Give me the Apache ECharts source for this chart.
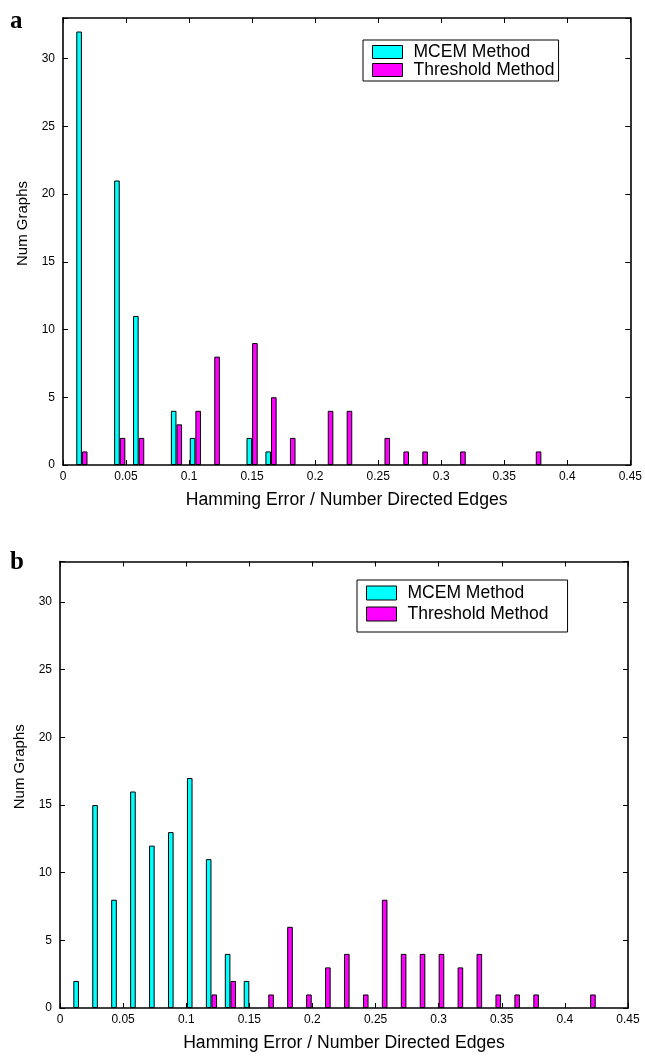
<!DOCTYPE html>
<html><head><meta charset="utf-8">
<script src="https://cdn.jsdelivr.net/npm/echarts@6/dist/echarts.min.js"></script>
<style>html,body{margin:0;padding:0;background:#fff}#c{width:645px;height:1056px}</style>
</head><body><div id="c"></div><script>
// Bin centres (Hamming error / number directed edges)
const binCenters = [0.015,0.03,0.045,0.06,0.075,0.09,0.105,0.12,0.135,0.15,0.165,0.18,0.195,0.21,
                    0.225,0.24,0.255,0.27,0.285,0.3,0.315,0.33,0.345,0.36,0.375,0.39,0.405,0.42];
const seriesNames = ['MCEM Method', 'Threshold Method'];
// Panel a counts per bin
const aMcem      = [32,0,21,11,0,4,2,0,0,2,1,0,0,0,0,0,0,0,0,0,0,0,0,0,0,0,0,0];
const aThreshold = [1,0,2,2,0,3,4,8,0,9,5,2,0,4,4,0,2,1,1,0,1,0,0,0,1,0,0,0];
// Panel b counts per bin
const bMcem      = [2,15,8,16,12,13,17,11,4,2,0,0,0,0,0,0,0,0,0,0,0,0,0,0,0,0,0,0];
const bThreshold = [0,0,0,0,0,0,0,1,2,0,1,6,1,3,4,1,8,4,4,4,3,4,1,1,1,0,0,1];
const panelLetters = ['a', 'b'];
const xTitle = 'Hamming Error / Number Directed Edges';
const yTitle = 'Num Graphs';

const FONT = 'Liberation Sans, Arial, Helvetica, sans-serif';
const toData = counts => binCenters.map((x, i) => [x, counts[i]]).filter(d => d[1] > 0);

const grids = [
  {left: 63, top: 18, width: 568.5, height: 447},
  {left: 60, top: 561.5, width: 568, height: 446.5}
];
const lineStyle = {color: '#000', width: 1.6};
const tick = {inside: true, length: 5, lineStyle: {color: '#000', width: 1}};

const xAxis = [], yAxis = [];
grids.forEach((g, i) => {
  xAxis.push({gridIndex: i, type: 'value', min: 0, max: 0.45, interval: 0.05, position: 'bottom',
    axisLine: {onZero: false, lineStyle}, axisTick: tick, splitLine: {show: false},
    axisLabel: {fontSize: 12, color: '#000', margin: 6, fontFamily: FONT},
    name: xTitle, nameLocation: 'middle', nameGap: 26,
    nameTextStyle: {fontSize: 17.6, color: '#000', fontFamily: FONT}});
  xAxis.push({gridIndex: i, type: 'value', min: 0, max: 0.45, interval: 0.05, position: 'top',
    axisLine: {onZero: false, lineStyle}, axisTick: tick, splitLine: {show: false},
    axisLabel: {show: false}});
  yAxis.push({gridIndex: i, type: 'value', min: 0, max: 33, interval: 5, position: 'left',
    axisLine: {onZero: false, lineStyle}, axisTick: tick, splitLine: {show: false},
    axisLabel: {fontSize: 12, color: '#000', margin: 8, fontFamily: FONT,
      formatter: v => (v % 5 === 0 ? String(v) : '')},
    name: yTitle, nameLocation: 'middle', nameGap: 28,
    nameTextStyle: {fontSize: 15, color: '#000', fontFamily: FONT, padding: [0, 0, 0, 36]}});
  yAxis.push({gridIndex: i, type: 'value', min: 0, max: 33, interval: 5, position: 'right',
    axisLine: {onZero: false, lineStyle}, axisTick: tick, splitLine: {show: false},
    axisLabel: {show: false}});
});

const colors = ['#00FFFF', '#FF00FF'];
const panelData = [[aMcem, aThreshold], [bMcem, bThreshold]];
const series = [];
panelData.forEach((pair, p) => {
  pair.forEach((counts, s) => {
    series.push({name: seriesNames[s], type: 'bar', xAxisIndex: p * 2, yAxisIndex: p * 2,
      data: toData(counts), barWidth: 5.6, barGap: '0%',
      itemStyle: {color: colors[s], borderColor: '#000', borderWidth: 1}});
  });
});

const legendCommon = {data: seriesNames, orient: 'vertical', itemWidth: 30, icon: 'rect',
  borderColor: '#000', borderWidth: 1, backgroundColor: '#fff', selectedMode: false,
  itemStyle: {borderColor: '#000', borderWidth: 1}};
const legend = [
  Object.assign({}, legendCommon, {left: 363, top: 40, itemHeight: 13, itemGap: 0, padding: [3, 4, 2, 9],
    textStyle: {fontSize: 17.5, lineHeight: 18, color: '#000', fontFamily: FONT, padding: [0, 0, 0, 6]}}),
  Object.assign({}, legendCommon, {left: 357, top: 580, itemHeight: 14, itemGap: 1, padding: [3, 19, 8, 9],
    textStyle: {fontSize: 17.5, lineHeight: 20, color: '#000', fontFamily: FONT, padding: [0, 0, 0, 6]}})
];

const graphic = [
  {type: 'text', left: 10, top: 9, style: {text: panelLetters[0], font: 'bold 25px "Liberation Serif", serif', fill: '#000'}},
  {type: 'text', left: 10, top: 550, style: {text: panelLetters[1], font: 'bold 25px "Liberation Serif", serif', fill: '#000'}}
];

const chart = echarts.init(document.getElementById('c'), null, {renderer: 'canvas'});
chart.setOption({animation: false, backgroundColor: '#fff', grid: grids, xAxis, yAxis, series, legend, graphic});
</script></body></html>
